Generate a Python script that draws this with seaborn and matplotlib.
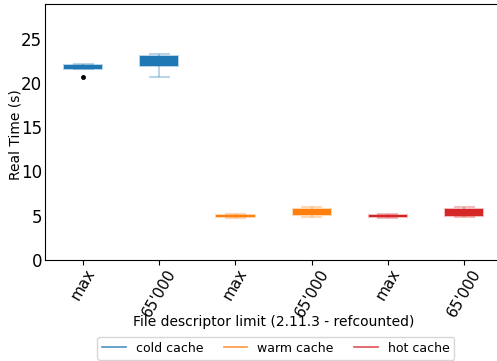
import matplotlib
matplotlib.use("Agg")
import matplotlib.pyplot as plt
from matplotlib.lines import Line2D
import matplotlib.colors as mcolors
import seaborn as sns
import pandas as pd

# ---- data ----
groups = ["cold max", "cold 65000", "warm max", "warm 65000", "hot max", "hot 65000"]
tick_labels = ["max", "65'000", "max", "65'000", "max", "65'000"]
caches = ["cold cache", "cold cache", "warm cache", "warm cache", "hot cache", "hot cache"]
cold_max = [20.6, 21.6, 21.6, 21.7, 21.8, 21.9, 22.05, 22.1, 22.15]
cold_65000 = [20.6, 21.5, 21.85, 22.1, 22.3, 22.6, 23.0, 23.2, 23.3]
warm_max = [4.75, 4.8, 4.85, 4.9, 4.95, 5.0, 5.05, 5.1, 5.15]
warm_65000 = [4.8, 4.9, 5.03, 5.2, 5.35, 5.5, 5.8, 5.9, 5.95]
hot_max = [4.7, 4.75, 4.82, 4.87, 4.92, 4.97, 5.02, 5.1, 5.15]
hot_65000 = [4.8, 4.9, 5.0, 5.15, 5.3, 5.5, 5.75, 5.9, 5.95]
series = [cold_max, cold_65000, warm_max, warm_65000, hot_max, hot_65000]
cache_names = ["cold cache", "warm cache", "hot cache"]
cache_colors = ["#1f77b4", "#ff7f0e", "#d62728"]

rows = []
for g, c, vals in zip(groups, caches, series):
    for v in vals:
        rows.append({"group": g, "cache": c, "time": v})
df = pd.DataFrame(rows)

fig = plt.figure(figsize=(4.97, 3.61), dpi=100)
ax = fig.add_axes([0.0905, 0.28, 0.92, 0.709])

for name, col in zip(cache_names, cache_colors):
    sub = df[df["cache"] == name]
    light = mcolors.to_rgba(col, 0.3)
    sns.boxplot(data=sub, x="group", y="time", order=groups, ax=ax,
                color=col, linecolor=light, saturation=1, width=0.5,
                linewidth=1.5,
                flierprops=dict(marker="o", markerfacecolor="black",
                                markeredgecolor="black", markersize=2.5))

ax.set_xlim(-0.5, 5.5)
ax.set_ylim(0, 28.9)
ax.spines["right"].set_visible(False)
ax.set_yticks([0, 5, 10, 15, 20, 25])
ax.set_xticks(range(len(groups)))
ax.set_xticklabels(tick_labels, rotation=60)
ax.tick_params(axis="y", labelsize=12, length=0, pad=2)
ax.tick_params(axis="x", labelsize=11, length=3.5, pad=1)
ax.set_xlabel("File descriptor limit (2.11.3 - refcounted)", fontsize=10)
ax.set_ylabel("Real Time (s)", fontsize=10)
ax.xaxis.set_label_coords(0.5, -0.215)
ax.yaxis.set_label_coords(-0.05, 0.49)

handles = [Line2D([0], [0], color=c, lw=1.2, alpha=0.8) for c in cache_colors]
fig.legend(handles, cache_names, loc="upper center", ncol=3,
           bbox_to_anchor=(0.555, 0.085), fontsize=9, handlelength=1.9,
           columnspacing=1.6)

fig.savefig("out.png", dpi=100)
